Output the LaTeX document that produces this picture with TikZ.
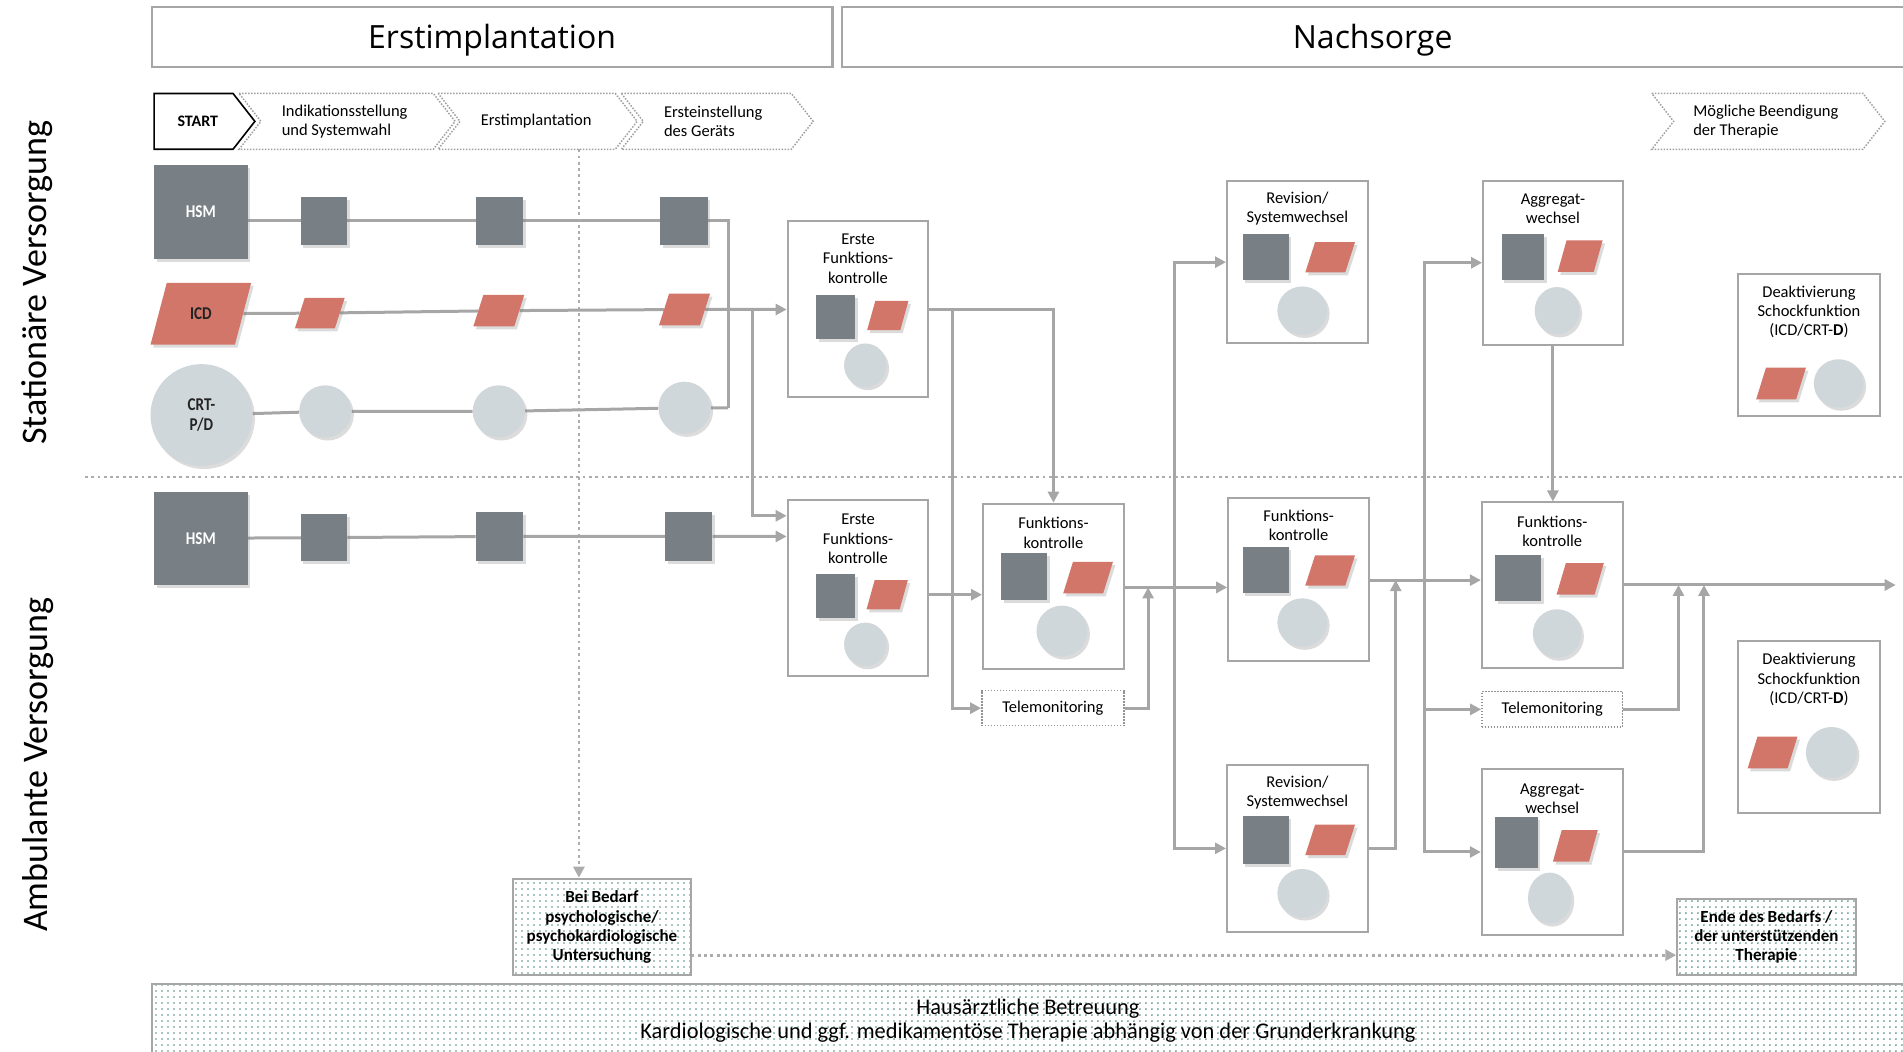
\documentclass[tikz,border=0pt]{standalone}
\usepackage{fontspec}
\setmainfont{Carlito}
\newfontfamily\hdfont{Open Sans}
\usetikzlibrary{arrows.meta,shapes.geometric,shadows,patterns.meta,backgrounds}
\definecolor{dkg}{RGB}{121,128,133}
\definecolor{rd}{RGB}{210,118,106}
\definecolor{lt}{RGB}{208,215,219}
\definecolor{ln}{RGB}{166,166,166}
\definecolor{bd}{RGB}{166,166,166}
\definecolor{dotg}{RGB}{172,172,172}
\definecolor{dt}{RGB}{80,140,130}
\definecolor{labc}{RGB}{35,35,35}
\newcommand\sz[1]{#1*1.2137pt}
\newcommand\cnd[1]{\scalebox{0.84}[1]{#1}}
\begin{document}
\begin{tikzpicture}[x=1.2137pt,y=-1.2137pt,
  shd/.style={drop shadow={shadow xshift=2.5pt,shadow yshift=-3pt,opacity=0.28}},
  sq/.style n args={2}{shd,rectangle,fill=dkg,inner sep=0pt,minimum width=\sz{#1},minimum height=\sz{#2}},
  para/.style n args={2}{shd,trapezium,trapezium left angle=72,trapezium right angle=108,trapezium stretches=true,fill=rd,inner sep=1pt,minimum width=\sz{#1},minimum height=\sz{#2}},
  circ/.style n args={2}{shd,ellipse,fill=lt,inner sep=0pt,minimum width=\sz{#1},minimum height=\sz{#2}},
  pbox/.style n args={2}{rectangle,draw=bd,line width=2pt,fill=white,inner sep=0pt,minimum width=\sz{#1},minimum height=\sz{#2}},
  tbox/.style n args={2}{rectangle,draw=gray!85,line width=1.4pt,dash pattern=on 1.4pt off 1.6pt,fill=white,inner sep=0pt,minimum width=\sz{#1},minimum height=\sz{#2},font=\fontsize{16.5}{19.4}\selectfont},
  dbox/.style n args={2}{rectangle,draw=bd,line width=2pt,pattern={Dots[distance=6pt,radius=0.95pt]},pattern color=dt,inner sep=0pt,minimum width=\sz{#1},minimum height=\sz{#2}},
  btxt/.style={font=\fontsize{16.5}{19.4}\selectfont,align=center,inner sep=0pt},
  bbtxt/.style={font=\bfseries\fontsize{17}{19.4}\selectfont,align=center,inner sep=0pt},
  lab/.style={font=\bfseries\fontsize{18}{19.5}\selectfont,align=center,text=labc},
  conn/.style={draw=ln,line width=3pt},
  arr/.style={conn,-{Triangle[length=11pt,width=11pt]}},
  dconn/.style={draw=dotg,line width=2.8pt,dash pattern=on 2.8pt off 3.5pt},
  darr/.style={dconn,-{Triangle[length=11pt,width=11pt]}},
  sepline/.style={draw=dotg,line width=2.8pt,dash pattern=on 2.8pt off 3.5pt},
  chev/.style={draw=gray!75,line width=1.5pt,dash pattern=on 1.5pt off 1.5pt},
  ctxt/.style={font=\fontsize{16.5}{19.4}\selectfont,align=left,anchor=west,inner sep=0pt},
  hbox/.style={draw=bd,line width=2.2pt,fill=white},
  side/.style={font=\fontsize{36}{40}\selectfont,rotate=90,inner sep=0pt},
]
\useasboundingbox (0,0) rectangle (1568,866);

% header
\draw[hbox] (125,6) rectangle (686,55);
\node[font=\hdfont\fontsize{32}{36}\selectfont,inner sep=0pt] (hd1) at (405.5,33.5) {Erstimplantation};
\draw[hbox] (694,6) rectangle (1575,55);
\node[font=\hdfont\fontsize{32}{36}\selectfont,inner sep=0pt] (hd2) at (1131,33.5) {Nachsorge};

% side labels
\node[side] (sl1) at (31,233) {Stationäre Versorgung};
\node[side] (sl2) at (31,630) {Ambulante Versorgung};

% separator
\draw[sepline] (70,393) -- (1570,393);

% chevrons
\draw[chev] (197,77) -- (357,77) -- (375,100) -- (357,123) -- (197,123) -- (215,100) -- cycle;
\draw[chev] (361,77) -- (507,77) -- (525,100) -- (507,123) -- (361,123) -- (379,100) -- cycle;
\draw[chev] (512,77) -- (652,77) -- (670,100) -- (652,123) -- (512,123) -- (530,100) -- cycle;
\draw[chev] (1361,77) -- (1535,77) -- (1553,100) -- (1535,123) -- (1361,123) -- (1379,100) -- cycle;
\draw[draw=black,line width=1.6pt,fill=white] (127,77) -- (192,77) -- (210,100) -- (192,123) -- (127,123) -- cycle;
\node[font=\bfseries\fontsize{16}{19}\selectfont,inner sep=0pt] (st) at (163,100) {START};
\node[ctxt] (ch1) at (232,100) {Indikationsstellung\\und Systemwahl};
\node[ctxt] (ch2) at (396,100) {Erstimplantation};
\node[ctxt] (ch3) at (547,100) {Ersteinstellung\\des Geräts};
\node[ctxt] (ch4) at (1395,100) {Mögliche Beendigung\\der Therapie};

% left devices
\node[sq={77}{77},lab,text=white] (hsm1) at (165.5,174.5) {\cnd{HSM}};
\node[sq={38}{40}] (h1) at (267,182) {};
\node[sq={39}{40}] (h2) at (411.5,182) {};
\node[sq={39}{40}] (h3) at (563.5,182) {};
\node[para={83}{51},trapezium left angle=68,trapezium right angle=112,lab] (icd) at (165.5,258.5) {\cnd{ICD}};
\node[para={41}{25}] (i1) at (263.5,258) {};
\node[para={42}{26}] (i2) at (411,256) {};
\node[para={42}{26}] (i3) at (564,255) {};
\node[circ={84}{84},lab] (crt) at (166,342) {\cnd{CRT-}\\\cnd{P/D}};
\node[circ={43}{43}] (c1) at (268,339) {};
\node[circ={43}{43}] (c2) at (411,339) {};
\node[circ={43}{43}] (c3) at (564,336) {};
\node[sq={77}{77},lab,text=white] (hsm2) at (165.5,443.5) {\cnd{HSM}};
\node[sq={38}{39}] (a1) at (267,443) {};
\node[sq={39}{40}] (a2) at (411.5,442) {};
\node[sq={39}{40}] (a3) at (567.5,442) {};

% process boxes
\node[pbox={116}{145}] (E1) at (707,254.5) {};
\node[pbox={116}{145}] (E2) at (707,484.5) {};
\node[pbox={116}{136}] (F1) at (868,483) {};
\node[tbox={117}{29}] (T1) at (867.5,583.5) {Telemonitoring};
\node[pbox={116}{134}] (R1) at (1069,216) {};
\node[pbox={116}{135}] (R2) at (1070,477.5) {};
\node[pbox={116}{138}] (R3) at (1069,699) {};
\node[pbox={115}{135}] (A1) at (1279.5,216.5) {};
\node[pbox={116}{136}] (A2) at (1279,482) {};
\node[tbox={116}{29}] (T2) at (1279,584.5) {Telemonitoring};
\node[pbox={116}{136}] (A3) at (1279,702) {};
\node[pbox={117}{117}] (D1) at (1490.5,284.5) {};
\node[pbox={117}{142}] (D2) at (1490.5,599) {};
\node[dbox={146}{79}] (BB) at (496,763.5) {};
\node[dbox={147}{62}] (EB) at (1455.5,772) {};
\node[dbox={1450}{64}] (band) at (850,843) {};

% box texts
\node[btxt] (E1t) at (707,213) {Erste\\Funktions-\\kontrolle};
\node[btxt] (E2t) at (707,444) {Erste\\Funktions-\\kontrolle};
\node[btxt] (F1t) at (868,439) {Funktions-\\kontrolle};
\node[btxt] (R1t) at (1069,172) {Revision/\\Systemwechsel};
\node[btxt] (R2t) at (1070,433) {Funktions-\\kontrolle};
\node[btxt] (R3t) at (1069,653) {Revision/\\Systemwechsel};
\node[btxt] (A1t) at (1279.5,172) {Aggregat-\\wechsel};
\node[btxt] (A2t) at (1279,438) {Funktions-\\kontrolle};
\node[btxt] (A3t) at (1279,658) {Aggregat-\\wechsel};
\node[btxt] (D1t) at (1490.5,257) {Deaktivierung\\Schockfunktion\\(ICD/CRT-\textbf{D})};
\node[btxt] (D2t) at (1490.5,560) {Deaktivierung\\Schockfunktion\\(ICD/CRT-\textbf{D})};
\node[bbtxt] (BBt) at (496,764) {Bei Bedarf\\psychologische/\\psychokardiologische\\Untersuchung};
\node[bbtxt] (EBt) at (1455.5,772) {Ende des Bedarfs /\\der unterstützenden\\Therapie};
\node[font=\fontsize{22.4}{24.3}\selectfont,align=center,inner sep=0pt] (bandt) at (847,841) {Hausärztliche Betreuung\\Kardiologische und ggf. medikamentöse Therapie abhängig von der Grunderkrankung};

% inner shapes
\node[sq={32}{36}] (E1s) at (688.5,261) {};
\node[para={34}{24}] (E1p) at (731.5,260) {};
\node[circ={35}{36}] (E1c) at (713,301) {};
\node[sq={32}{36}] (E2s) at (688.5,491) {};
\node[para={34}{24}] (E2p) at (731,490) {};
\node[circ={35}{36}] (E2c) at (713,531) {};
\node[sq={38}{38}] (F1s) at (844,475) {};
\node[para={41}{26}] (F1p) at (896.5,476) {};
\node[circ={42}{42}] (F1c) at (875,520) {};
\node[sq={38}{38}] (R1s) at (1043,212) {};
\node[para={41}{25}] (R1p) at (1096,212) {};
\node[circ={41}{40}] (R1c) at (1073,256) {};
\node[sq={38}{38}] (R2s) at (1043,470) {};
\node[para={41}{25}] (R2p) at (1096,470) {};
\node[circ={41}{40}] (R2c) at (1073,513) {};
\node[sq={38}{40}] (R3s) at (1043,692) {};
\node[para={41}{25}] (R3p) at (1096,692) {};
\node[circ={41}{40}] (R3c) at (1073,736) {};
\node[sq={35}{38}] (A1s) at (1255,212) {};
\node[para={37}{26}] (A1p) at (1302,211) {};
\node[circ={37}{39}] (A1c) at (1283,256) {};
\node[sq={38}{38}] (A2s) at (1251,476) {};
\node[para={39}{26}] (A2p) at (1302,477) {};
\node[circ={40}{40}] (A2c) at (1283,522) {};
\node[sq={35}{42}] (A3s) at (1249.5,694) {};
\node[para={37}{26}] (A3p) at (1298,697) {};
\node[circ={36}{42}] (A3c) at (1277,740) {};
\node[para={41}{26}] (D1p) at (1467.5,316) {};
\node[circ={41}{40}] (D1c) at (1515,316) {};
\node[para={41}{26}] (D2p) at (1460.5,620) {};
\node[circ={42}{42}] (D2c) at (1509,620) {};

% coordinates
\coordinate (J1) at (600,182);
\coordinate (J2) at (600,336);
\coordinate (K1) at (620,255);
\coordinate (K2) at (620,425);
\coordinate (K3) at (868,255);
\coordinate (K4) at (785,255);
\coordinate (K5) at (0,490);
\coordinate (K6) at (0,484);
\coordinate (K7) at (946,484);
\coordinate (K8) at (968,484);
\coordinate (K9) at (0,478);
\coordinate (K10) at (1150,478);
\coordinate (K11) at (1174,478);
\coordinate (K12) at (1562,482);
\coordinate (K13) at (1383,482);
\coordinate (K14) at (1404,482);
\coordinate (V1) at (477,123);
\coordinate (V2) at (0,787);

\begin{scope}[on background layer]
\draw[conn] (hsm1.east |- h1.center) -- (h1) -- (h2) -- (h3) -- (J1) -- (J2);
\draw[conn] (crt) -- (c1) -- (c2) -- (c3) -- (J2);
\draw[arr] (icd) -- (i1) -- (i2) -- (i3) -- (E1.west |- i3.center);
\draw[arr] (K1) -- (K2) -- (E2.west |- K2);
\draw[arr] (hsm2) -- (a1) -- (a2) -- (a3) -- (E2.west |- a3.center);
\draw[arr] (E1.east |- K3) -- (K3) -- (F1.north);
\draw[arr] (K4) |- (T1.west);
\draw[arr] (E2.east |- K5) -- (F1.west |- K5);
\draw[arr] (F1.east |- K6) -- (R2.west |- K6);
\draw[arr] (T1.east) -| (K7);
\draw[arr] (K8) |- (R1.west);
\draw[arr] (K8) |- (R3.west);
\draw[arr] (R2.east |- K9) -- (A2.west |- K9);
\draw[arr] (R3.east) -| (K10);
\draw[arr] (K11) |- (A1.west);
\draw[arr] (K11) |- (A3.west);
\draw[arr] (K11 |- T2.west) -- (T2.west);
\draw[arr] (A1.south) -- (A1.south |- A2.north);
\draw[arr] (A2.east |- K12) -- (K12);
\draw[arr] (T2.east) -| (K13);
\draw[arr] (A3.east) -| (K14);
\end{scope}
\draw[darr] (V1) -- (V1 |- BB.north);
\draw[darr] (BB.east |- V2) -- (EB.west |- V2);
\end{tikzpicture}
\end{document}
